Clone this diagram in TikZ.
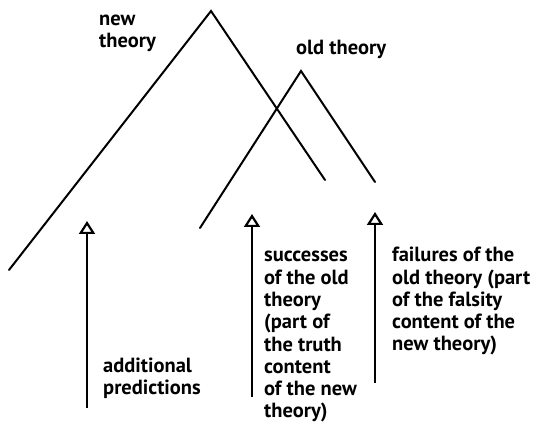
\documentclass[tikz,border=0pt]{standalone}
\usepackage{fontspec}
\setmainfont{PT Sans}
\usetikzlibrary{arrows.meta}
\tikzset{
  theory/.style={line width=2pt, line cap=round, line join=miter},
  pointer/.style={line width=2.4pt, -{Triangle[open, width=16pt, length=13pt, line width=2.2pt]}},
  lbl/.style={anchor=base west, align=left, inner sep=0pt, font=\bfseries\fontsize{20.5}{22.3}\selectfont}
}
\begin{document}
\begin{tikzpicture}[x=1pt,y=-1pt]
\useasboundingbox (0,0) rectangle (539,435);
% new theory
\coordinate (nL) at (9,270);
\coordinate (nT) at (211,11);
\coordinate (nR) at (325,180);
% old theory
\coordinate (oL) at (200,228);
\coordinate (oT) at (301,71);
\coordinate (oR) at (375,182);
\draw[theory] (nL) -- (nT) -- (nR);
\draw[theory] (oL) -- (oT) -- (oR);
% arrows
\coordinate (a1s) at (87,408);
\coordinate (a1e) at (87,221);
\coordinate (a2s) at (252,397);
\coordinate (a2e) at (252,214);
\coordinate (a3s) at (375,383);
\coordinate (a3e) at (375,212);
\draw[pointer] (a1s) -- (a1e);
\draw[pointer] (a2s) -- (a2e);
\draw[pointer] (a3s) -- (a3e);
% labels (anchored at the baseline of the last line)
\node[lbl] (tnew) at (99,48) {new\\theory};
\node[lbl] (told) at (296,55) {old theory};
\node[lbl] (tadd) at (103,395) {additional\\predictions};
\node[lbl] (tsucc) at (264,418) {successes\\of the old\\theory\\(part of\\the truth\\content\\of the new\\theory)};
\node[lbl] (tfail) at (392,351) {failures of the\\old theory (part\\of the falsity\\content of the\\new theory)};
\end{tikzpicture}
\end{document}
